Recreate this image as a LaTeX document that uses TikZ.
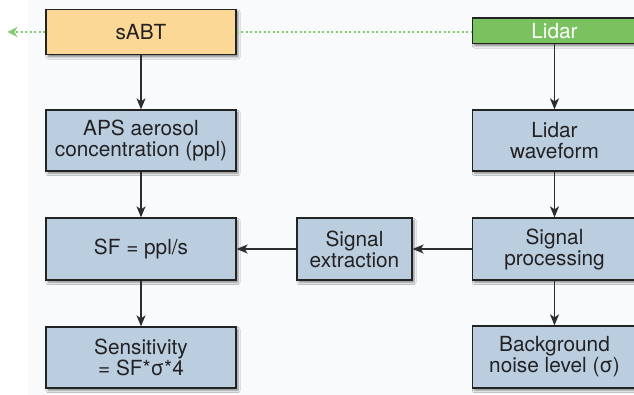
\documentclass[tikz,border=0pt]{standalone}
\usepackage{fontspec}
\setmainfont{TeX Gyre Heros}
\usetikzlibrary{arrows.meta,shadows.blur}
\definecolor{bgc}{RGB}{249,250,252}
\definecolor{peach}{RGB}{251,216,150}
\definecolor{lgreen}{RGB}{122,194,96}
\definecolor{dgreen}{RGB}{130,205,110}
\definecolor{boxblue}{RGB}{186,206,223}
\definecolor{edge}{RGB}{35,35,35}
\definecolor{txt}{RGB}{35,33,35}
\definecolor{arr}{RGB}{45,45,45}
\tikzset{
  box/.style={draw=edge, line width=1.3pt, fill=boxblue, inner sep=0pt,
    align=center, text=txt,
    font=\fontsize{20.8}{21}\selectfont,
    blur shadow={shadow xshift=2pt, shadow yshift=-2.5pt, shadow blur steps=5, shadow opacity=45}},
  flow/.style={draw=arr, line width=1.2pt, -{Stealth[length=11pt,width=9pt,inset=3pt]}},
  dotline/.style={draw=dgreen, line width=1.5pt, dash pattern=on 2pt off 2.5pt}
}
\begin{document}
\begin{tikzpicture}[x=1pt,y=-1pt]
\useasboundingbox (0,0) rectangle (634,395);
\fill[white] (0,0) rectangle (634,395);
\fill[bgc] (28,0) rectangle (634,395);

\node[box, fill=peach, minimum width=190pt, minimum height=45pt] (sabt) at (141,32) {sABT};
\node[box, fill=lgreen, text=white, minimum width=164pt, minimum height=25.5pt] (lidar) at (554.5,30.75) {Lidar};
\node[box, minimum width=190pt, minimum height=61pt] (aps) at (141,140.5) {APS aerosol\\concentration (ppl)};
\node[box, minimum width=164pt, minimum height=61pt] (wave) at (554.5,140.5) {Lidar\\waveform};
\node[box, minimum width=190pt, minimum height=62pt] (sf) at (141,249) {SF = ppl/s};
\node[box, minimum width=115pt, minimum height=62pt] (ext) at (354.5,249) {Signal\\extraction};
\node[box, minimum width=164pt, minimum height=62pt] (proc) at (554.5,249) {Signal\\processing};
\node[box, minimum width=190pt, minimum height=61pt] (sens) at (141,357.5) {Sensitivity\\= SF*σ*4};
\node[box, minimum width=164pt, minimum height=62pt] (bg) at (554.5,357) {Background\\noise level (σ)};

\coordinate (tip) at (7.5,32);
\draw[dotline] (sabt.east) -- (sabt.east -| lidar.west);
\draw[dotline, -{Stealth[length=10pt,width=10pt,inset=3pt,fill=dgreen]}] (sabt.west) -- (tip);

\draw[flow] (sabt) -- (aps);
\draw[flow] (aps) -- (sf);
\draw[flow] (sf) -- (sens);
\draw[flow] (lidar) -- (wave);
\draw[flow] (wave) -- (proc);
\draw[flow] (proc) -- (bg);
\draw[flow] (proc) -- (ext);
\draw[flow] (ext) -- (sf);
\end{tikzpicture}
\end{document}
